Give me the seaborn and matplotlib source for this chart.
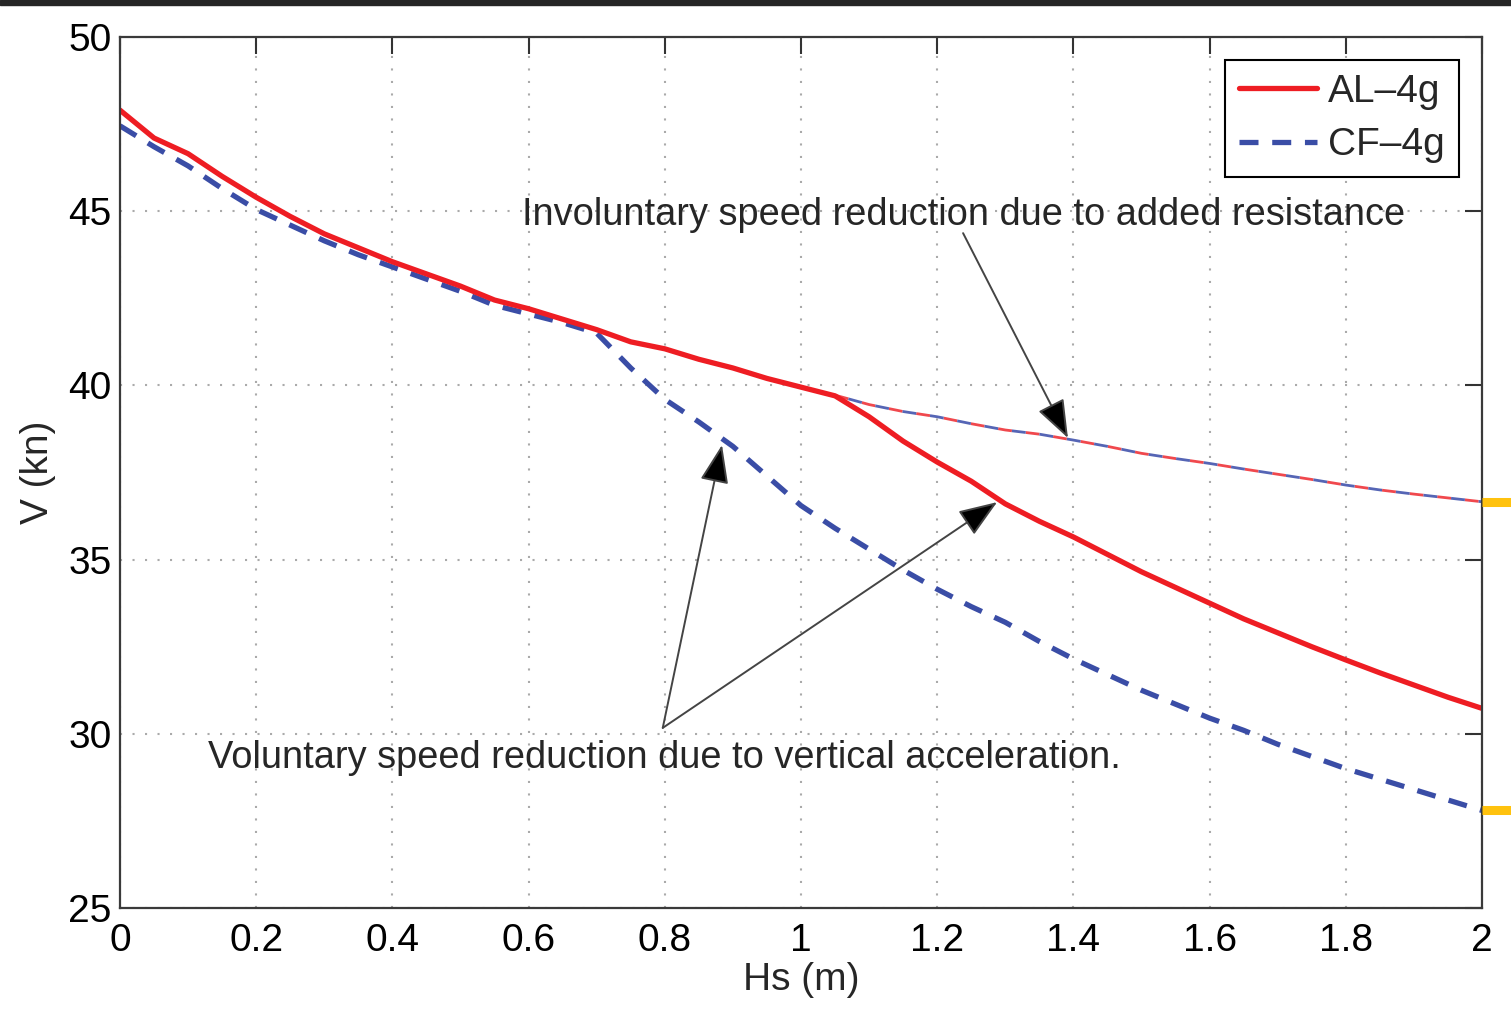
import numpy as np
import pandas as pd
import matplotlib
matplotlib.use("Agg")
import matplotlib.pyplot as plt
import seaborn as sns
from matplotlib.lines import Line2D
from matplotlib.patches import Rectangle

# significant wave height (m)
hs = [0.00, 0.05, 0.10, 0.15, 0.20, 0.25, 0.30, 0.35, 0.40, 0.45,
      0.50, 0.55, 0.60, 0.65, 0.70, 0.75, 0.80, 0.85, 0.90, 0.95,
      1.00, 1.05, 1.10, 1.15, 1.20, 1.25, 1.30, 1.35, 1.40, 1.45,
      1.50, 1.55, 1.60, 1.65, 1.70, 1.75, 1.80, 1.85, 1.90, 1.95, 2.00]

# attainable speed (kn)
al_4g = [47.90, 47.10, 46.65, 46.00, 45.40, 44.85, 44.35, 43.95, 43.55, 43.20,
         42.85, 42.45, 42.20, 41.90, 41.60, 41.25, 41.05, 40.75, 40.50, 40.20,
         39.95, 39.70, 39.10, 38.40, 37.80, 37.25, 36.60, 36.10, 35.65, 35.15,
         34.65, 34.20, 33.75, 33.30, 32.90, 32.50, 32.12, 31.75, 31.40, 31.05, 30.73]
cf_4g = [47.45, 46.85, 46.30, 45.65, 45.05, 44.60, 44.15, 43.75, 43.40, 43.05,
         42.70, 42.30, 42.05, 41.80, 41.50, 40.50, 39.60, 38.95, 38.25, 37.40,
         36.55, 35.90, 35.30, 34.70, 34.15, 33.65, 33.20, 32.65, 32.15, 31.70,
         31.25, 30.85, 30.45, 30.10, 29.70, 29.35, 29.00, 28.70, 28.40, 28.10, 27.80]

# speed limited only by added resistance (same for both hulls)
hs_resist = [1.05, 1.10, 1.15, 1.20, 1.25, 1.30, 1.35, 1.40, 1.45, 1.50,
             1.55, 1.60, 1.65, 1.70, 1.75, 1.80, 1.85, 1.90, 1.95, 2.00]
v_resist = [39.72, 39.45, 39.25, 39.10, 38.90, 38.72, 38.60, 38.43, 38.25, 38.05,
            37.90, 37.76, 37.60, 37.45, 37.30, 37.14, 37.00, 36.88, 36.77, 36.66]

df = pd.DataFrame({"Hs": hs, "AL": al_4g, "CF": cf_4g})
df_res = pd.DataFrame({"Hs": hs_resist, "V": v_resist})

RED = "#EE1D23"
BLUE = "#3A4DA6"
CF_DASH = (0, (3.6, 2.6))

sns.set_theme(style="white")
plt.rcParams["font.family"] = ["Liberation Sans", "DejaVu Sans"]

fig = plt.figure(figsize=(15.11, 10.16), dpi=100)
ax = fig.add_axes([120 / 1511, 1 - 908 / 1016, 1362 / 1511, 871 / 1016])

# thin resistance-limited curve, red and blue dashes alternating
sns.lineplot(data=df_res, x="Hs", y="V", ax=ax, color="#F0484D", lw=2.0,
             linestyle=(0, (5, 5)), legend=False)
sns.lineplot(data=df_res, x="Hs", y="V", ax=ax, color="#5565B5", lw=2.0,
             linestyle=(5, (5, 5)), legend=False)

sns.lineplot(data=df, x="Hs", y="CF", ax=ax, color=BLUE, lw=3.8,
             linestyle=CF_DASH, legend=False)
sns.lineplot(data=df, x="Hs", y="AL", ax=ax, color=RED, lw=3.8, legend=False)

# yellow tabs at the right edge
for v in [v_resist[-1], cf_4g[-1]]:
    ax.plot([2.0, 2.043], [v, v], color="#FFC20E", lw=6.5, clip_on=False,
            solid_capstyle="butt", zorder=5)

ax.set_xlim(0, 2)
ax.set_ylim(25, 50)
ax.set_xticks([0, 0.2, 0.4, 0.6, 0.8, 1, 1.2, 1.4, 1.6, 1.8, 2])
ax.set_xticklabels(["0", "0.2", "0.4", "0.6", "0.8", "1", "1.2", "1.4", "1.6", "1.8", "2"])
ax.set_yticks([25, 30, 35, 40, 45, 50])
ax.tick_params(direction="in", length=12, width=1.5, top=True, right=True,
               labelsize=28, color="#333333", labelcolor="black")
ax.tick_params(axis="x", pad=11)
ax.tick_params(axis="y", pad=6)
ax.grid(True, linestyle=(0, (1, 5)), color="#aaaaaa", lw=1.5)
for s in ax.spines.values():
    s.set_color("#3a3a3a")
    s.set_linewidth(1.6)

ax.set_xlabel("Hs (m)", fontsize=28, labelpad=2)
ax.set_ylabel("V (kn)", fontsize=28, labelpad=9)

handles = [Line2D([], [], color=RED, lw=3.8),
           Line2D([], [], color=BLUE, lw=3.8, linestyle=CF_DASH)]
leg = ax.legend(handles, ["AL\u20134g", "CF\u20134g"], loc="upper right",
                fontsize=28, frameon=True, fancybox=False, handlelength=2.0,
                handletextpad=0.3, borderaxespad=0.6, borderpad=0.35,
                labelspacing=0.45)
leg.get_frame().set_edgecolor("black")
leg.get_frame().set_linewidth(1.5)
leg.get_frame().set_alpha(1)

# annotations
ax.text(0.590, 44.60, "Involuntary speed reduction due to added resistance",
        fontsize=27.4, va="baseline", ha="left")
ax.text(0.129, 29.02, "Voluntary speed reduction due to vertical acceleration.",
        fontsize=27.4, va="baseline", ha="left")

arrow = dict(arrowstyle="-|>,head_length=1.2,head_width=0.45", ec="#444444",
             fc="black", lw=1.4, shrinkA=0, shrinkB=0, mutation_scale=20)
ax.annotate("", xy=(1.392, 38.49), xytext=(1.238, 44.37), arrowprops=arrow)
ax.annotate("", xy=(0.884, 38.29), xytext=(0.797, 30.17), arrowprops=arrow)
ax.annotate("", xy=(1.288, 36.65), xytext=(0.797, 30.17), arrowprops=arrow)

# dark strip along the top edge
fig.add_artist(Rectangle((0, 1 - 5 / 1016), 1, 5 / 1016,
                         transform=fig.transFigure, color="#262626"))

fig.savefig("out.png", dpi=100)
